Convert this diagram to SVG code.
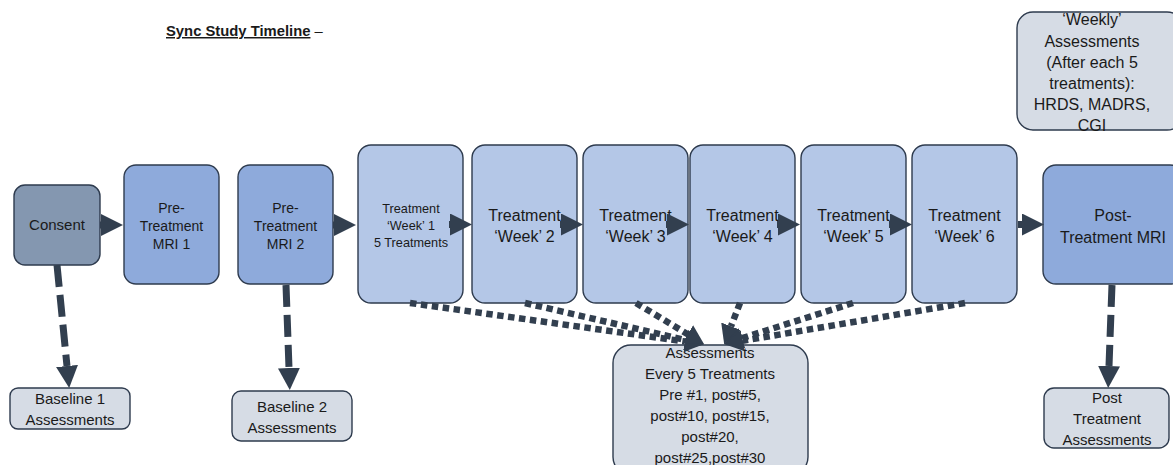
<svg xmlns="http://www.w3.org/2000/svg" width="1173" height="465" viewBox="0 0 1173 465">
<style>
text{font-family:"Liberation Sans",Arial,sans-serif;fill:#1a1a1a;text-anchor:middle}
.box{stroke:#2e3b4e;stroke-width:1.4}
.consent{fill:#8497b0}
.mri{fill:#8eaadb}
.wk{fill:#b4c7e7}
.as{fill:#d6dce5}
.t16{font-size:16px}
.t15{font-size:15px}
.t14{font-size:14px}
.t12{font-size:12.7px}
.solid{stroke:#323f4f;stroke-width:7;fill:none;marker-end:url(#big)}
.dash{stroke:#323f4f;stroke-width:7;fill:none;stroke-dasharray:22 8;marker-end:url(#big)}
.dot{stroke:#323f4f;stroke-width:6.5;fill:none;stroke-dasharray:6.5 4.5;marker-end:url(#small)}
</style>
<defs>
<marker id="big" markerUnits="userSpaceOnUse" markerWidth="22" markerHeight="22" refX="0" refY="11" orient="auto" viewBox="0 0 22 22"><path d="M0,0 L22,11 L0,22 z" fill="#323f4f"/></marker>
<marker id="small" markerUnits="userSpaceOnUse" markerWidth="19" markerHeight="21" refX="0" refY="10.5" orient="auto" viewBox="0 0 19 21"><path d="M0,0 L19,10.5 L0,21 z" fill="#323f4f"/></marker>
</defs>
<rect width="1173" height="465" fill="#ffffff"/>
<g id="title">
<text x="166" y="36" style="text-anchor:start;font-size:14.8px"><tspan font-weight="bold" text-decoration="underline">Sync Study Timeline</tspan> –</text>
</g>
<g id="consent"><rect class="box consent" x="14" y="185" width="86" height="80" rx="11"/><text class="t15" x="57" y="230">Consent</text></g>
<g id="mri1"><rect class="box mri" x="124" y="165" width="95" height="119" rx="12"/><text class="t14" x="171.5" y="213">Pre-</text><text class="t14" x="171.5" y="231">Treatment</text><text class="t14" x="171.5" y="249">MRI 1</text></g>
<g id="mri2"><rect class="box mri" x="238" y="165" width="95" height="119" rx="12"/><text class="t14" x="285.5" y="213">Pre-</text><text class="t14" x="285.5" y="231">Treatment</text><text class="t14" x="285.5" y="249">MRI 2</text></g>
<g id="week1"><rect class="box wk" x="358" y="145" width="105" height="158" rx="13"/><text class="t12" x="411" y="213">Treatment</text><text class="t12" x="411" y="230">‘Week’ 1</text><text class="t12" x="411" y="247">5 Treatments</text></g>
<g id="week2"><rect class="box wk" x="472" y="145" width="105" height="158" rx="13"/><text class="t16" x="524.5" y="221">Treatment</text><text class="t16" x="524.5" y="242">‘Week’ 2</text></g>
<g id="week3"><rect class="box wk" x="583" y="145" width="105" height="158" rx="13"/><text class="t16" x="635.5" y="221">Treatment</text><text class="t16" x="635.5" y="242">‘Week’ 3</text></g>
<g id="week4"><rect class="box wk" x="690" y="145" width="105" height="158" rx="13"/><text class="t16" x="742.5" y="221">Treatment</text><text class="t16" x="742.5" y="242">‘Week’ 4</text></g>
<g id="week5"><rect class="box wk" x="801" y="145" width="105" height="158" rx="13"/><text class="t16" x="853.5" y="221">Treatment</text><text class="t16" x="853.5" y="242">‘Week’ 5</text></g>
<g id="week6"><rect class="box wk" x="912" y="145" width="105" height="158" rx="13"/><text class="t16" x="964.5" y="221">Treatment</text><text class="t16" x="964.5" y="242">‘Week’ 6</text></g>
<g id="postmri"><rect class="box mri" x="1043" y="165" width="140" height="119" rx="13"/><text class="t16" x="1113" y="221">Post-</text><text class="t16" x="1113" y="243">Treatment MRI</text></g>
<g id="weekly"><rect class="box as" x="1017" y="12" width="166" height="118" rx="16"/><text class="t16" x="1092" y="25">‘Weekly’</text><text class="t16" x="1092" y="47">Assessments</text><text class="t16" x="1092" y="68">(After each 5</text><text class="t16" x="1092" y="89">treatments):</text><text class="t16" x="1092" y="110">HRDS, MADRS,</text><text class="t16" x="1092" y="131">CGI</text></g>
<g id="assess"><rect class="box as" x="613" y="345" width="195" height="130" rx="18"/><text class="t15" x="710" y="358">Assessments</text><text class="t15" x="710" y="379">Every 5 Treatments</text><text class="t15" x="710" y="400">Pre #1, post#5,</text><text class="t15" x="710" y="421">post#10, post#15,</text><text class="t15" x="710" y="442">post#20,</text><text class="t15" x="710" y="463">post#25,post#30</text></g>
<g id="baseline1"><rect class="box as" x="10" y="388" width="120" height="41" rx="8"/><text class="t15" x="70" y="404">Baseline 1</text><text class="t15" x="70" y="425">Assessments</text></g>
<g id="baseline2"><rect class="box as" x="232" y="391" width="120" height="50" rx="9"/><text class="t15" x="292" y="412">Baseline 2</text><text class="t15" x="292" y="433">Assessments</text></g>
<g id="postassess"><rect class="box as" x="1044" y="388" width="125" height="60" rx="10"/><text class="t15" x="1107" y="403">Post</text><text class="t15" x="1107" y="424">Treatment</text><text class="t15" x="1107" y="445">Assessments</text></g>
<g id="connectors">
<path class="solid" d="M100,225 L101,225"/>
<path class="solid" d="M333,225 L334,225"/>
<path class="solid" d="M449,224.5 L450,224.5"/>
<path class="solid" d="M560,224.5 L561,224.5"/>
<path class="solid" d="M666,224.5 L667,224.5"/>
<path class="solid" d="M777,224.5 L778,224.5"/>
<path class="solid" d="M889,224.5 L890,224.5"/>
<path class="solid" d="M1018,224.5 L1022,224.5"/>
<path class="dash" d="M57,265 L67,366"/>
<path class="dash" d="M286,285 L289,368"/>
<path class="dash" d="M1112,285 L1109,366"/>
<path class="dot" d="M410,303 L685,341.5"/>
<path class="dot" d="M525,303 L685.5,340"/>
<path class="dot" d="M636,303 L687.7,334.2"/>
<path class="dot" d="M740,303 L731,326.3"/>
<path class="dot" d="M853,303 L742,338.2"/>
<path class="dot" d="M965,303 L742.7,340.8"/>
</g>
</svg>
